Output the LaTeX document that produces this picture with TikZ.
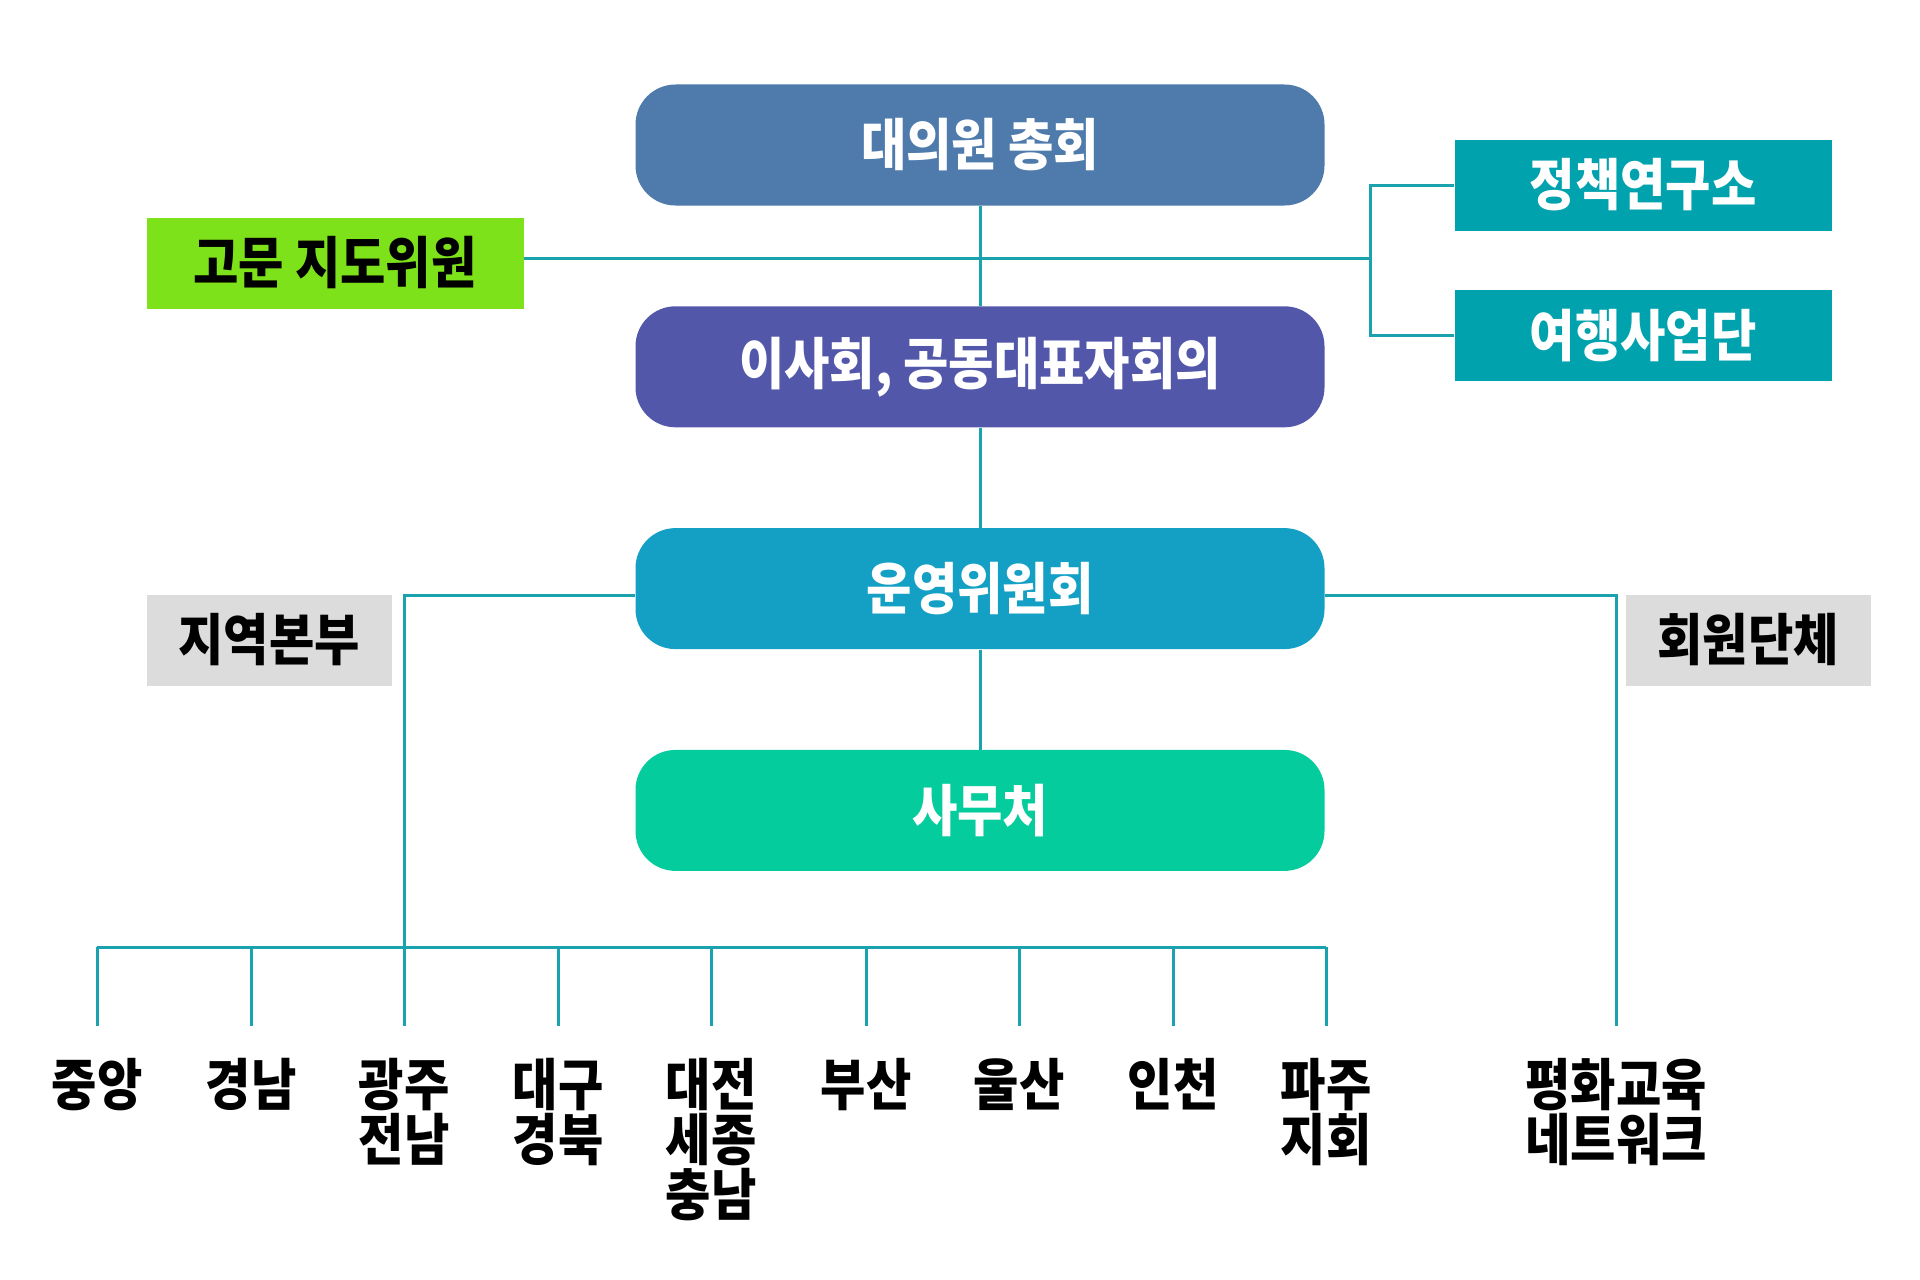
\documentclass[tikz,border=0pt]{standalone}
\usepackage{fontspec}
\setmainfont{Noto Sans CJK KR}[FakeStretch=0.88]
\usetikzlibrary{positioning}

\definecolor{cGeneral}{RGB}{78,122,172}
\definecolor{cBoard}{RGB}{82,87,169}
\definecolor{cCommittee}{RGB}{20,160,196}
\definecolor{cOffice}{RGB}{5,204,156}
\definecolor{cAdvisor}{RGB}{126,226,26}
\definecolor{cUnit}{RGB}{0,162,174}
\definecolor{cTag}{RGB}{220,220,220}
\definecolor{cLink}{RGB}{26,163,175}

\begin{document}
\begin{tikzpicture}[
  x=0.5pt, y=0.5pt,
  font=\fontsize{28}{27.5}\selectfont\bfseries,
  mainbox/.style={rounded corners=20pt, align=center, minimum width=344.5pt, minimum height=60.5pt, text=white, inner sep=0pt},
  sidebox/.style={align=center, minimum width=188.5pt, minimum height=45.5pt, inner sep=0pt},
  tagbox/.style={fill=cTag, align=center, minimum width=122.5pt, minimum height=45.5pt, inner sep=0pt},
  region/.style={align=center, inner sep=0pt, anchor=north},
  link/.style={draw=cLink, line width=1.5pt}
]
\useasboundingbox (0,0) rectangle (1920,-1279);

\node[mainbox, fill=cGeneral] (general) at (980,-145) {대의원 총회};
\node[mainbox, fill=cBoard, below=50pt of general] (board) {이사회, 공동대표자회의};
\node[mainbox, fill=cCommittee, below=50pt of board] (committee) {운영위원회};
\node[mainbox, fill=cOffice, below=50pt of committee] (office) {사무처};

\node[sidebox, fill=cAdvisor] (advisor) at (335,-263) {고문 지도위원};
\node[sidebox, fill=cUnit, text=white] (research) at (1643,-185) {정책연구소};
\node[sidebox, fill=cUnit, text=white, below=29.5pt of research] (travel) {여행사업단};

\node[tagbox] (branches) at (269,-640) {지역본부};
\node[tagbox] (members) at (1748,-640) {회원단체};

\draw[link] (general) -- (board);
\draw[link] (board) -- (committee);
\draw[link] (committee) -- (office);

\coordinate (tee) at (1370,-258);
\draw[link] (advisor.east |- tee) -- (tee);
\draw[link] (research.west) -| (tee) |- (travel.west);

\foreach \x/\name [count=\i] in {97/중앙, 251/경남, 404/{광주\\전남}, 558/{대구\\경북},
    711/{대전\\세종\\충남}, 866/부산, 1019/울산, 1173/인천, 1326/{파주\\지회}} {
  \coordinate (top\i) at (\x,-947);
  \coordinate (end\i) at (\x,-1026);
  \draw[link] (top\i) -- (end\i);
  \node[region, below=16pt of end\i] (reg\i) {\name};
}
\draw[link] (top1) -- (top9);
\draw[link] ([yshift=-3.5pt]committee.west) -| (end3);

\coordinate (endR) at (1616,-1026);
\draw[link] ([yshift=-3.5pt]committee.east) -| (endR);
\node[region, below=16pt of endR] (network) {평화교육\\네트워크};

\end{tikzpicture}
\end{document}
